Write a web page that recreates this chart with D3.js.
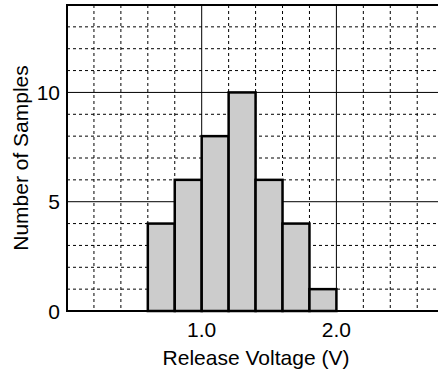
<!DOCTYPE html>
<html><head><meta charset="utf-8">
<script src="https://cdn.jsdelivr.net/npm/d3@7"></script>
<style>body{margin:0;background:#fff}svg{display:block}text{font-family:"Liberation Sans",Arial,Helvetica,sans-serif;fill:#000}</style>
</head><body><svg id="c" width="438" height="373"></svg>
<script>
const binStarts = [0.6, 0.8, 1.0, 1.2, 1.4, 1.6, 1.8];
const binWidth = 0.2;
const counts = [4, 6, 8, 10, 6, 4, 1];
const xTickValues = [1.0, 2.0];
const xTickLabels = ["1.0", "2.0"];
const yTickValues = [0, 5, 10];
const yTickLabels = ["0", "5", "10"];
const xMinorStep = 0.2;
const yMinorStep = 1;
const xLabel = "Release Voltage (V)";
const yLabel = "Number of Samples";

const svg = d3.select("#c");
const L = 67, T = 5, B = 311;
const x = d3.scaleLinear().domain([0, 2.8]).range([L, L + 2.8 * 134.7]);
const y = d3.scaleLinear().domain([0, 14]).range([B, T]);

const g = svg.append("g");
const xMinor = d3.range(0, 2.8 + 1e-9, xMinorStep).filter(v => v > 0.01 && !xTickValues.some(t => Math.abs(t - v) < 1e-6));
const yMinor = d3.range(0, 14 + 1e-9, yMinorStep).filter(v => v > 0 && v < 14 && !yTickValues.includes(v));
g.selectAll(".vx").data(xMinor).join("line")
  .attr("x1", d => x(d)).attr("x2", d => x(d)).attr("y1", T).attr("y2", B)
  .attr("stroke", "#000").attr("stroke-width", 1).attr("stroke-dasharray", "3,3");
g.selectAll(".hy").data(yMinor).join("line")
  .attr("x1", L).attr("x2", 438).attr("y1", d => y(d)).attr("y2", d => y(d))
  .attr("stroke", "#000").attr("stroke-width", 1).attr("stroke-dasharray", "3,3");
g.selectAll(".mx").data(xTickValues).join("line")
  .attr("x1", d => x(d)).attr("x2", d => x(d)).attr("y1", T).attr("y2", B)
  .attr("stroke", "#000").attr("stroke-width", 1);
g.selectAll(".my").data(yTickValues.filter(v => v > 0)).join("line")
  .attr("x1", L).attr("x2", 438).attr("y1", d => y(d)).attr("y2", d => y(d))
  .attr("stroke", "#000").attr("stroke-width", 1);

g.selectAll(".bar").data(binStarts).join("rect")
  .attr("x", d => x(d)).attr("width", d => x(d + binWidth) - x(d))
  .attr("y", (d, i) => y(counts[i])).attr("height", (d, i) => y(0) - y(counts[i]))
  .attr("fill", "#cccccc").attr("stroke", "#000").attr("stroke-width", 2.5);

g.append("line").attr("x1", L).attr("x2", 438).attr("y1", T).attr("y2", T).attr("stroke", "#000").attr("stroke-width", 2);
g.append("line").attr("x1", L).attr("x2", 438).attr("y1", B).attr("y2", B).attr("stroke", "#000").attr("stroke-width", 2);
g.append("line").attr("x1", L).attr("x2", L).attr("y1", T - 1).attr("y2", B + 1).attr("stroke", "#000").attr("stroke-width", 2);

svg.selectAll(".xt").data(xTickValues).join("text")
  .attr("x", d => x(d)).attr("y", 337).attr("text-anchor", "middle")
  .attr("font-size", 21).text((d, i) => xTickLabels[i]);
svg.selectAll(".yt").data(yTickValues).join("text")
  .attr("x", 60).attr("y", d => y(d) + 7.5).attr("text-anchor", "end")
  .attr("font-size", 21).text((d, i) => yTickLabels[i]);
svg.append("text").attr("x", 256).attr("y", 365).attr("text-anchor", "middle")
  .attr("font-size", 21).text(xLabel);
svg.append("text").attr("transform", "translate(28,158) rotate(-90)").attr("text-anchor", "middle")
  .attr("font-size", 21).text(yLabel);
</script></body></html>
